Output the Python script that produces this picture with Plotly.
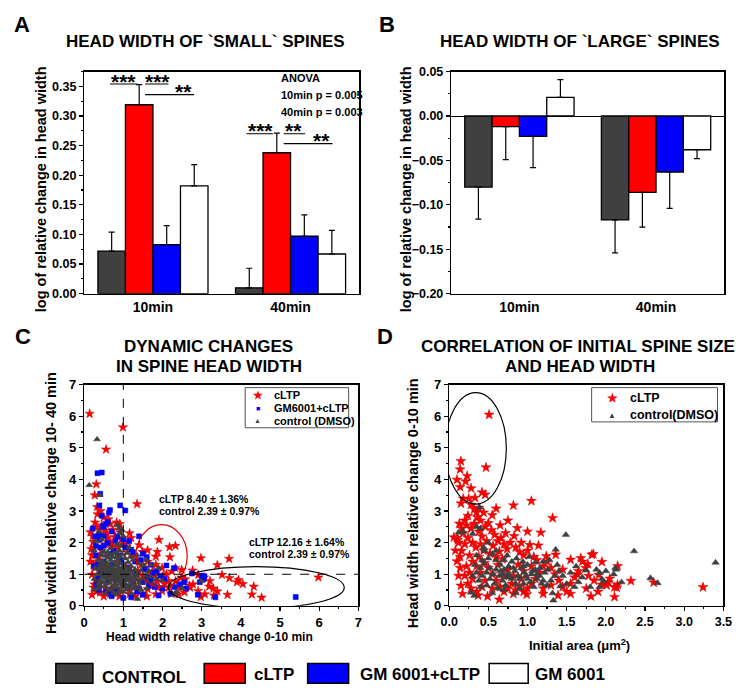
import plotly.graph_objects as go

W, H = 748, 698


def X(p):
    return p / W


def Y(p):
    return 1 - p / H


# ---------------- data: bar panels ----------------
groups = ["10min", "40min"]
series_names = ["CONTROL", "cLTP", "GM 6001+cLTP", "GM 6001"]
series_colors = ["#404040", "#FF0000", "#0000FF", "#FFFFFF"]

small_control = [0.072, 0.010]
small_cltp = [0.319, 0.238]
small_gm_cltp = [0.083, 0.097]
small_gm = [0.182, 0.067]
small_control_err = [0.032, 0.033]
small_cltp_err = [0.034, 0.033]
small_gm_cltp_err = [0.032, 0.036]
small_gm_err = [0.036, 0.040]

large_control = [-0.080, -0.117]
large_cltp = [-0.012, -0.086]
large_gm_cltp = [-0.023, -0.063]
large_gm = [0.021, -0.038]
large_control_err = [0.036, 0.037]
large_cltp_err = [0.037, 0.039]
large_gm_cltp_err = [0.035, 0.041]
large_gm_err = [0.020, 0.010]

# ---------------- data: scatter C ----------------
c_cltp = [
    (0.14, 6.08), (0.99, 5.65), (0.56, 4.95), (0.31, 3.85), (0.27, 3.50), (1.35, 3.22), (0.33, 3.13),
    (0.34, 2.90), (0.62, 2.74), (0.28, 2.64), (0.66, 2.59), (0.83, 2.64), (0.91, 2.59), (0.38, 2.40),
    (0.53, 2.38), (0.73, 2.41), (0.16, 2.33), (0.91, 2.33), (1.16, 2.30), (0.23, 2.02), (1.12, 2.02),
    (0.40, 2.20), (0.60, 2.15), (0.78, 2.18), (0.25, 1.85), (0.20, 1.60), (0.26, 1.61), (0.16, 1.40),
    (0.28, 1.20), (0.20, 0.99), (0.26, 0.68), (0.33, 0.78), (0.24, 0.58), (0.41, 0.42), (0.66, 0.37),
    (0.83, 0.39), (1.16, 0.37), (1.49, 0.37), (1.62, 0.53), (1.83, 0.37), (1.99, 0.47), (2.16, 0.58),
    (2.33, 0.78), (2.58, 0.84), (2.41, 0.37), (2.70, 0.58), (2.78, 0.68), (2.91, 0.47), (3.08, 0.37),
    (2.99, 0.89), (1.41, 1.92), (1.49, 1.71), (1.62, 1.76), (1.83, 1.56), (1.62, 1.40), (1.83, 1.30),
    (1.99, 1.20), (1.74, 1.09), (2.33, 1.20), (2.24, 1.09), (2.49, 1.14), (1.91, 2.09), (2.18, 1.86),
    (2.33, 1.90), (2.19, 1.54), (1.87, 1.71), (2.98, 1.51), (3.40, 1.29), (3.70, 1.49), (3.52, 0.98),
    (3.71, 0.88), (3.94, 0.82), (4.05, 0.69), (4.33, 0.61), (4.28, 0.36), (4.53, 0.26), (3.66, 0.35),
    (3.31, 0.33), (5.98, 0.90), (3.21, 0.79), (3.06, 0.90), (2.98, 0.28), (3.19, 0.61), (3.40, 0.46),
    (2.69, 0.64), (2.56, 0.43), (2.40, 0.59), (2.23, 0.38), (2.15, 0.79), (2.02, 0.95), (1.86, 0.77),
    (2.48, 0.90), (2.77, 1.12), (2.91, 0.98), (3.90, 0.75), (3.30, 0.55), (0.45, 1.75), (0.55, 1.95),
    (0.70, 1.90), (0.85, 1.85), (1.00, 1.95), (1.10, 1.70), (1.25, 1.60), (1.35, 1.45), (1.45, 1.30),
    (1.55, 1.20), (1.65, 1.05), (1.50, 0.95), (1.40, 0.80), (1.30, 0.60), (1.15, 0.50), (0.95, 0.45),
    (0.75, 0.50), (0.55, 0.55), (0.40, 0.70), (0.35, 0.95), (0.30, 1.35), (0.38, 1.55), (0.50, 1.20),
    (0.60, 0.90), (0.80, 0.75), (1.00, 0.65), (1.20, 0.85), (1.05, 1.25), (0.90, 1.40), (0.70, 1.25),
    (1.30, 1.10), (1.70, 0.70), (1.80, 0.95), (1.90, 0.60), (2.05, 0.70), (2.10, 1.00), (1.60, 0.30),
    (1.30, 0.30), (0.50, 0.30), (0.90, 0.30), (0.35, 2.10), (0.45, 2.55), (0.50, 2.80), (0.42, 3.00),
    (0.58, 2.30), (0.68, 2.00), (0.95, 2.10), (1.20, 2.15), (0.30, 2.50), (0.22, 2.20), (0.18, 1.80),
    (0.24, 1.30), (0.30, 0.45), (0.20, 0.35),
]
c_gm_cltp = [
    (0.34, 4.20), (0.45, 4.22), (0.41, 3.55), (0.39, 3.18), (0.92, 3.18), (1.05, 3.02), (0.66, 3.03),
    (0.63, 2.95), (0.22, 2.45), (0.38, 2.25), (0.55, 2.60), (0.48, 2.52), (0.60, 2.65), (0.30, 1.90),
    (0.42, 1.85), (0.85, 2.20), (0.80, 2.05), (1.00, 2.10), (1.40, 2.20), (1.20, 1.78), (1.05, 1.85),
    (1.50, 1.65), (1.60, 1.55), (1.45, 1.45), (1.70, 1.30), (1.85, 1.10), (2.10, 1.28), (2.30, 1.20),
    (2.05, 0.85), (1.95, 0.95), (1.80, 0.60), (2.20, 0.38), (1.90, 0.33), (1.50, 0.35), (1.20, 0.27),
    (1.00, 0.25), (0.70, 0.30), (0.55, 0.45), (0.30, 0.65), (0.35, 0.85), (0.25, 1.25), (0.30, 1.60),
    (0.50, 1.40), (0.45, 1.10), (0.70, 1.30), (0.90, 1.60), (1.30, 1.00), (1.60, 0.90), (1.10, 0.60),
    (1.40, 0.55), (0.80, 0.50), (0.60, 0.80), (2.55, 0.75), (2.45, 0.68), (2.75, 1.02), (3.00, 0.95),
    (3.05, 0.85), (2.95, 0.75), (2.90, 0.35), (3.35, 0.27), (5.40, 0.28), (3.07, 0.94), (2.60, 0.55),
    (1.75, 1.05), (1.30, 1.40), (1.15, 1.20), (0.95, 1.45), (0.75, 1.75), (0.60, 2.00), (0.50, 2.20),
    (0.40, 2.10), (0.35, 1.30), (0.80, 0.95), (1.00, 0.80), (1.25, 0.75), (1.50, 0.75), (1.70, 0.80),
    (2.00, 0.55), (2.30, 0.60), (0.50, 1.90), (0.65, 1.65), (0.42, 1.00), (0.38, 0.50), (0.65, 0.40),
    (1.35, 0.45), (1.65, 0.65), (1.55, 1.15), (1.25, 1.70), (1.15, 2.05), (0.70, 2.35), (0.28, 2.20),
    (0.45, 2.85), (0.50, 2.50),
]
c_control = [
    (0.35, 0.55), (0.42, 0.62), (0.48, 0.75), (0.52, 0.88), (0.45, 1.02), (0.38, 1.15), (0.41, 1.30),
    (0.47, 1.42), (0.55, 1.58), (0.60, 1.70), (0.68, 1.82), (0.75, 1.65), (0.82, 1.55), (0.58, 1.35),
    (0.62, 1.20), (0.66, 1.05), (0.70, 0.92), (0.74, 0.80), (0.78, 0.68), (0.84, 0.58), (0.90, 0.48),
    (0.96, 0.62), (1.02, 0.74), (1.08, 0.86), (1.12, 0.98), (1.05, 1.10), (0.98, 1.22), (0.92, 1.34),
    (0.86, 1.46), (0.80, 1.28), (0.76, 1.15), (0.72, 1.00), (0.88, 0.90), (0.94, 1.02), (1.00, 0.88),
    (0.86, 0.78), (0.92, 0.70), (1.15, 0.65), (1.22, 0.78), (1.28, 0.90), (1.35, 0.82), (1.42, 0.72),
    (1.48, 0.85), (1.55, 0.95), (1.60, 0.78), (1.38, 1.05), (1.30, 1.15), (1.20, 1.25), (1.12, 1.38),
    (1.05, 1.50), (0.98, 1.62), (0.90, 1.75), (1.10, 1.68), (1.25, 1.45), (1.18, 1.12), (1.25, 1.02),
    (1.45, 1.12), (1.52, 1.28), (1.65, 1.10), (1.70, 0.92), (1.75, 0.70), (0.55, 1.00), (0.60, 0.85),
    (0.65, 0.72), (0.70, 0.60), (0.62, 0.50), (0.75, 0.42), (0.85, 0.38), (1.00, 0.45), (1.10, 0.52),
    (1.30, 0.55), (1.45, 0.50), (0.50, 1.15), (0.53, 1.28), (0.68, 1.45), (0.72, 1.55), (0.80, 1.02),
    (0.82, 0.92), (0.95, 0.82), (1.05, 0.95), (1.10, 0.80), (0.84, 1.12), (0.90, 1.10), (0.96, 1.15),
    (1.02, 1.30), (0.78, 1.38), (0.66, 1.28), (0.58, 1.08), (0.46, 0.92), (0.40, 0.80), (0.36, 0.68),
    (0.34, 1.00), (0.37, 1.45), (0.44, 1.62), (0.50, 1.72), (0.85, 1.95), (0.95, 1.90), (1.15, 1.85),
    (1.35, 1.60), (1.40, 1.35), (1.58, 1.45), (1.70, 1.30), (1.85, 0.85), (1.90, 1.20), (2.00, 0.80),
    (2.20, 0.65), (2.35, 0.45), (2.30, 0.35), (2.50, 0.55), (3.00, 0.78), (1.36, 0.22), (0.27, 0.52),
    (0.33, 5.27), (0.13, 3.82), (0.40, 3.50), (0.85, 2.55), (0.90, 2.45), (0.45, 2.10), (0.30, 2.05),
    (0.38, 2.35), (0.96, 2.40), (0.92, 2.30), (1.00, 2.20), (0.25, 1.75), (0.28, 1.20), (0.26, 0.85),
    (0.55, 0.40), (1.20, 0.40), (1.60, 0.55), (0.88, 1.22), (0.74, 1.20), (0.70, 1.10), (0.94, 0.95),
    (1.00, 1.05), (0.80, 0.85), (1.15, 0.90), (0.62, 0.95), (0.56, 0.70), (1.05, 0.60), (1.25, 0.68),
    (1.35, 0.95), (1.18, 1.55), (0.82, 1.68), (0.64, 1.62), (0.60, 1.52), (0.78, 1.10), (0.86, 1.00),
    (0.92, 0.88), (1.00, 0.95), (0.70, 0.80), (0.64, 1.12), (1.08, 1.20), (1.14, 1.05), (0.98, 0.72),
    (0.76, 0.58), (0.54, 0.62), (0.48, 1.30), (0.90, 1.55), (1.20, 0.60), (1.40, 0.60), (0.42, 1.15),
]

# ---------------- data: scatter D ----------------
d_cltp = [
    (0.51, 6.05), (0.15, 4.58), (0.14, 4.32), (0.47, 4.38), (0.23, 4.11), (0.10, 3.99), (0.21, 3.94),
    (0.14, 3.76), (0.28, 3.72), (0.42, 3.59), (0.46, 3.52), (0.18, 3.39), (0.25, 3.39), (0.33, 3.42),
    (0.15, 3.24), (0.82, 3.18), (1.05, 3.32), (1.32, 2.78), (0.55, 2.87), (0.87, 2.46), (1.17, 2.32),
    (0.60, 3.08), (0.32, 3.06), (0.35, 2.96), (0.06, 2.17), (0.11, 2.08), (0.83, 2.21), (1.03, 1.93),
    (1.14, 1.91), (1.24, 1.57), (1.36, 1.62), (1.55, 1.46), (1.68, 1.51), (1.82, 1.62), (1.74, 1.20),
    (1.91, 0.98), (2.03, 0.74), (2.11, 0.59), (2.15, 0.67), (2.32, 0.79), (2.61, 0.74), (3.24, 0.59),
    (2.11, 0.28), (1.81, 0.30), (1.55, 0.38), (1.39, 0.33), (1.20, 0.38), (0.99, 0.36), (0.82, 0.38),
    (0.64, 0.20), (0.49, 0.30), (0.37, 0.33), (0.17, 0.38), (0.15, 0.64), (0.20, 0.95), (0.14, 1.20),
    (0.10, 1.41), (0.16, 1.74), (1.95, 1.39), (2.15, 1.26), (1.64, 1.00), (1.78, 0.95), (1.95, 0.67),
    (1.45, 1.15), (1.84, 1.64), (1.77, 1.32), (2.05, 0.86), (2.01, 0.65), (2.14, 0.58),
    (0.20, 2.70), (0.22, 2.55), (0.28, 2.45), (0.32, 2.60), (0.36, 2.80), (0.38, 2.35), (0.42, 2.20),
    (0.46, 2.50), (0.50, 2.62), (0.54, 2.40), (0.58, 2.25), (0.62, 2.05), (0.66, 2.15), (0.70, 1.95),
    (0.74, 1.80), (0.78, 2.00), (0.85, 1.85), (0.90, 1.70), (0.95, 1.60), (1.00, 1.75), (1.08, 1.55),
    (1.12, 1.45), (0.18, 2.30), (0.24, 2.15), (0.30, 2.00), (0.34, 1.85), (0.40, 1.95), (0.44, 1.75),
    (0.48, 2.05), (0.52, 1.65), (0.56, 1.90), (0.60, 1.55), (0.64, 1.72), (0.68, 1.48), (0.20, 1.95),
    (0.26, 1.60), (0.30, 1.40), (0.22, 1.25), (0.26, 1.05), (0.30, 0.85), (0.24, 0.70), (0.28, 0.55),
    (0.35, 0.45), (0.42, 0.60), (0.46, 0.80), (0.40, 1.05), (0.35, 1.25), (0.38, 1.55), (0.45, 1.35),
    (0.50, 1.20), (0.55, 1.00), (0.60, 0.80), (0.65, 0.60), (0.70, 0.45), (0.75, 0.55), (0.80, 0.70),
    (0.85, 0.50), (0.90, 0.60), (0.95, 0.45), (1.00, 0.55), (1.05, 0.70), (1.10, 0.85), (1.15, 1.05),
    (1.20, 1.25), (1.25, 1.40), (1.30, 1.20), (1.35, 1.00), (1.40, 0.80), (1.45, 0.60), (1.50, 0.45),
    (1.55, 0.70), (1.60, 0.90), (1.65, 1.10), (1.70, 1.40), (1.75, 0.55), (1.85, 0.80), (1.90, 0.45),
    (1.20, 0.55), (1.30, 0.65), (0.12, 0.95), (0.08, 1.75), (0.12, 2.00), (0.14, 1.55), (0.10, 2.15),
    (0.16, 2.45), (0.13, 2.60), (0.40, 2.70), (0.24, 2.85), (0.44, 2.95), (0.28, 3.20), (0.38, 3.10),
    (0.65, 2.55), (0.72, 2.30), (0.92, 2.00), (1.00, 2.35), (0.75, 2.70), (0.62, 1.30), (0.75, 1.15),
    (0.88, 1.30), (0.95, 1.10), (1.05, 1.25), (0.82, 0.95), (0.70, 0.95), (0.55, 0.55), (0.92, 0.85),
]
d_control = [
    (0.39, 3.12), (1.49, 2.25), (1.36, 1.78), (2.36, 1.73), (3.40, 1.37), (2.57, 0.88), (2.66, 0.72),
    (2.12, 1.20), (2.13, 1.15), (1.92, 1.05), (1.95, 0.85), (1.92, 0.60), (1.33, 0.17), (1.32, 0.40),
    (0.32, 0.32), (0.28, 0.42), (0.18, 2.35), (0.12, 2.32), (0.30, 2.28), (0.35, 2.50), (0.40, 2.45),
    (0.44, 1.85), (2.20, 0.75), (2.10, 1.00), (1.70, 0.90), (1.80, 0.60), (2.00, 1.10), (1.60, 0.60),
    (1.65, 0.75), (1.50, 0.70), (1.45, 0.95), (1.97, 0.78), (1.88, 1.15), (1.55, 1.05), (1.42, 0.62),
    (1.38, 1.30), (1.28, 1.45), (1.20, 1.40), (1.10, 1.38), (1.75, 1.12), (1.62, 1.25),
    (0.35, 1.05), (0.40, 1.20), (0.45, 1.35), (0.50, 1.50), (0.55, 1.65), (0.60, 1.45), (0.65, 1.30),
    (0.70, 1.15), (0.75, 1.00), (0.80, 0.85), (0.85, 0.70), (0.90, 0.55), (0.95, 0.70), (1.00, 0.85),
    (1.05, 1.00), (1.10, 1.15), (1.15, 0.95), (1.20, 0.80), (1.25, 0.65), (1.30, 0.80), (1.35, 0.95),
    (1.40, 1.10), (0.38, 0.80), (0.42, 0.95), (0.48, 0.65), (0.52, 0.85), (0.56, 1.00), (0.60, 1.15),
    (0.64, 0.95), (0.68, 0.80), (0.72, 0.65), (0.76, 1.25), (0.80, 1.40), (0.84, 1.10), (0.88, 0.95),
    (0.92, 1.20), (0.96, 1.05), (1.00, 1.30), (1.04, 0.75), (1.08, 0.60), (1.12, 0.85), (1.16, 1.20),
    (1.22, 1.05), (0.45, 1.75), (0.52, 1.20), (0.58, 0.70), (0.62, 0.55), (0.70, 1.45), (0.74, 1.60),
    (0.86, 1.50), (0.94, 1.40), (1.02, 1.55), (0.30, 0.95), (0.33, 1.30), (0.48, 1.05), (0.66, 1.10),
    (0.78, 0.95), (0.82, 1.20), (0.90, 0.85), (0.98, 0.95), (1.06, 1.10), (1.18, 0.70), (1.26, 1.15),
    (0.40, 0.60), (0.55, 0.40), (0.70, 0.50), (0.85, 0.40), (0.60, 1.75), (0.50, 2.00), (0.35, 1.60),
    (0.42, 1.45), (0.68, 1.00), (0.95, 1.25), (0.74, 0.90), (1.12, 1.00),
]

# ---------------- figure ----------------


def font(size, color="black"):
    return dict(family="Liberation Sans, Arial, sans-serif", weight="bold", size=size, color=color)


fig = go.Figure()


def add_bars(vals_list, errs_list, xa, ya):
    for vals, errs, name, col in zip(vals_list, errs_list, series_names, series_colors):
        plus = [e if v >= 0 else 0 for v, e in zip(vals, errs)]
        minus = [e if v < 0 else 0 for v, e in zip(vals, errs)]
        fig.add_trace(go.Bar(
            x=groups, y=vals, name=name, showlegend=False, xaxis=xa, yaxis=ya,
            marker=dict(color=col, line=dict(color="black", width=1.3)),
            error_y=dict(type="data", symmetric=False, array=plus, arrayminus=minus,
                         color="black", thickness=1.2, width=3),
        ))


add_bars([small_control, small_cltp, small_gm_cltp, small_gm],
         [small_control_err, small_cltp_err, small_gm_cltp_err, small_gm_err], "x", "y")
add_bars([large_control, large_cltp, large_gm_cltp, large_gm],
         [large_control_err, large_cltp_err, large_gm_cltp_err, large_gm_err], "x2", "y2")


def scat(pts, xa, ya, symbol, color, size, line_color, name):
    fig.add_trace(go.Scatter(
        x=[p[0] for p in pts], y=[p[1] for p in pts], mode="markers", name=name,
        showlegend=False, xaxis=xa, yaxis=ya, hoverinfo="skip",
        marker=dict(symbol=symbol, color=color, size=size, line=dict(color=line_color, width=0.5)),
    ))


scat(c_cltp, "x3", "y3", "star", "#FF0000", 7, "#D00000", "cLTP")
scat(c_gm_cltp, "x3", "y3", "square", "#0000FF", 5, "#0000FF", "GM6001+cLTP")
scat(c_control, "x3", "y3", "triangle-up", "#404040", 6, "#404040", "control (DMSO)")
scat(d_cltp, "x4", "y4", "star", "#FF0000", 7.5, "#D00000", "cLTP")
scat(d_control, "x4", "y4", "triangle-up", "#404040", 6.5, "#404040", "control(DMSO)")

axis_common = dict(showline=True, linecolor="black", linewidth=1.3, mirror=True,
                   showgrid=False, zeroline=False, tickfont=font(12.5),
                   ticks="outside", ticklen=4, tickwidth=1.2, tickcolor="black")

fig.update_layout(
    width=W, height=H, margin=dict(l=0, r=0, t=0, b=0),
    paper_bgcolor="white", plot_bgcolor="white",
    barmode="group", bargap=0.2, bargroupgap=0,
    showlegend=False, hovermode=False,
    xaxis=dict(axis_common, domain=[X(77), X(359)], anchor="y", type="category",
               range=[-0.5, 1.5], ticks="", tickfont=font(14)),
    yaxis=dict(axis_common, domain=[Y(293), Y(66)], anchor="x", range=[0, 0.375],
               dtick=0.05, tickformat=".2f",
               minor=dict(ticks="outside", ticklen=2, dtick=0.025, tickcolor="black")),
    xaxis2=dict(axis_common, domain=[X(453), X(733)], anchor="y2", type="category",
                range=[-0.5, 1.5], ticks="", tickfont=font(14)),
    yaxis2=dict(axis_common, domain=[Y(293), Y(66)], anchor="x2", range=[-0.2, 0.05],
                dtick=0.05, tickformat=".2f", zeroline=True, zerolinecolor="black", zerolinewidth=1,
                minor=dict(ticks="outside", ticklen=2, dtick=0.025, tickcolor="black")),
    xaxis3=dict(axis_common, domain=[X(77), X(358)], anchor="y3", range=[0, 7], dtick=1,
                tickfont=font(13),
                minor=dict(ticks="outside", ticklen=2, dtick=0.5, tickcolor="black")),
    yaxis3=dict(axis_common, domain=[Y(612), Y(386)], anchor="x3", range=[0, 7], dtick=1,
                tickfont=font(13),
                minor=dict(ticks="outside", ticklen=2, dtick=0.5, tickcolor="black")),
    xaxis4=dict(axis_common, domain=[X(451), X(732)], anchor="y4", range=[0, 3.5], dtick=0.5,
                tickformat=".1f", tickfont=font(12.5),
                minor=dict(ticks="outside", ticklen=2, dtick=0.25, tickcolor="black")),
    yaxis4=dict(axis_common, domain=[Y(612), Y(386)], anchor="x4", range=[0, 7], dtick=1,
                tickfont=font(13),
                minor=dict(ticks="outside", ticklen=2, dtick=0.5, tickcolor="black")),
)

shapes = []
# significance lines in panel A (data coords)
sig_lines = [(-0.312, -0.113, 0.354), (-0.057, 0.113, 0.354), (-0.057, 0.298, 0.336),
             (0.68, 0.872, 0.270), (0.95, 1.106, 0.270), (0.95, 1.305, 0.2535)]
for x0, x1, yv in sig_lines:
    shapes.append(dict(type="line", xref="x", yref="y", x0=x0, x1=x1, y0=yv, y1=yv,
                       line=dict(color="black", width=1.2)))
# dashed reference lines panel C
shapes.append(dict(type="line", xref="x3", yref="y3", x0=1, x1=1, y0=0, y1=7,
                   line=dict(color="black", width=1, dash="dash")))
shapes.append(dict(type="line", xref="x3", yref="y3", x0=0, x1=7, y0=1, y1=1,
                   line=dict(color="black", width=1, dash="dash")))
# ellipses
shapes.append(dict(type="circle", xref="x3", yref="y3", x0=1.32, x1=2.63, y0=0.59, y1=2.57,
                   line=dict(color="#E00000", width=1.2)))
shapes.append(dict(type="circle", xref="x3", yref="y3", x0=2.15, x1=6.64, y0=-0.08, y1=1.24,
                   line=dict(color="black", width=1.2)))
shapes.append(dict(type="circle", xref="x4", yref="y4", x0=-0.05, x1=0.73, y0=3.22, y1=6.75,
                   line=dict(color="black", width=1.2)))
# legend boxes C and D
shapes.append(dict(type="rect", xref="paper", yref="paper", x0=X(242), x1=X(348), y0=Y(430), y1=Y(389),
                   line=dict(color="#555555", width=1), fillcolor="white"))
shapes.append(dict(type="rect", xref="paper", yref="paper", x0=X(597), x1=X(726), y0=Y(424), y1=Y(389),
                   line=dict(color="#555555", width=1), fillcolor="white"))
# bottom legend swatches
swatches = [(48, 86, "#404040"), (200, 242, "#FF0000"), (306, 348, "#0000FF"), (492, 532, "#FFFFFF")]
for x0, x1, col in swatches:
    shapes.append(dict(type="rect", xref="paper", yref="paper", x0=X(x0), x1=X(x1), y0=Y(691), y1=Y(671),
                       line=dict(color="black", width=1.5), fillcolor=col))
fig.update_layout(shapes=shapes)

ann = []


def txt(x, y, s, size, xanchor="center", yanchor="middle", angle=0, color="black"):
    ann.append(dict(x=X(x), y=Y(y), xref="paper", yref="paper", text=s, showarrow=False,
                    font=font(size, color), xanchor=xanchor, yanchor=yanchor, textangle=angle))


# panel letters
txt(13, 18, "A", 22)
txt(387, 18, "B", 22)
txt(14, 337, "C", 22)
txt(385, 337, "D", 22)
# titles
txt(201, 35, "HEAD WIDTH OF `SMALL` SPINES", 17)
txt(585, 35, "HEAD WIDTH OF `LARGE` SPINES", 17)
txt(204, 347, "DYNAMIC CHANGES", 17)
txt(205, 367, "IN SPINE HEAD WIDTH", 17)
txt(583, 347, "CORRELATION OF INITIAL SPINE SIZE", 17)
txt(585, 367, "AND HEAD WIDTH", 17)
# y titles
txt(33, 186, "log of relative change in head width", 14.5, angle=-90)
txt(407, 186, "log of relative change in head width", 14.5, angle=-90)
txt(43, 507, "Head width relative change 10- 40 min", 14.5, angle=-90)
txt(414, 507, "Head width relative change 0-10 min", 14.5, angle=-90)
# x titles
txt(205, 644, "Head width relative change 0-10 min", 12)
txt(585, 652, "Initial area (\u03bcm<sup>2</sup>)", 13)
# ANOVA text
txt(277, 73, "ANOVA", 11, xanchor="left")
txt(277, 90, "10min p = 0.005", 11, xanchor="left")
txt(277, 107, "40min p = 0.003", 11, xanchor="left")
# C annotations
txt(152, 503, "cLTP 8.40 \u00b1 1.36%", 10.5, xanchor="left")
txt(152, 515, "control 2.39 \u00b1 0.97%", 10.5, xanchor="left")
txt(244, 547, "cLTP 12.16 \u00b1 1.64%", 10.5, xanchor="left")
txt(244, 559, "control 2.39 \u00b1 0.97%", 10.5, xanchor="left")
# C legend
txt(255, 397, "\u2605", 11, color="#FF0000")
txt(255, 410, "\u25a0", 7, color="#0000FF")
txt(255, 423, "\u25b2", 7, color="#404040")
txt(269, 397, "cLTP", 11, xanchor="left")
txt(269, 410, "GM6001+cLTP", 11, xanchor="left")
txt(269, 423, "control (DMSO)", 11, xanchor="left")
# D legend
txt(618, 400, "\u2605", 12, color="#FF0000")
txt(618, 417, "\u25b2", 8, color="#404040")
txt(634, 400, "cLTP", 12.5, xanchor="left")
txt(634, 417, "control(DMSO)", 12.5, xanchor="left")
# bottom legend
txt(93, 685, "CONTROL", 17, xanchor="left")
txt(249, 682, "cLTP", 17, xanchor="left")
txt(358, 682, "GM 6001+cLTP", 17, xanchor="left")
txt(537, 682, "GM 6001", 17, xanchor="left")

# significance stars (data coords of panel A)
stars = [(-0.213, 0.354, "***"), (0.035, 0.354, "***"), (0.220, 0.336, "**"),
         (0.780, 0.270, "***"), (1.021, 0.270, "**"), (1.227, 0.2535, "**")]
for xs, ys, s in stars:
    ann.append(dict(x=xs, y=ys, xref="x", yref="y", text=s, showarrow=False, font=font(21),
                    xanchor="center", yanchor="middle", yshift=3))

fig.update_layout(annotations=ann)
fig.write_html("out.html", config={"displayModeBar": False, "staticPlot": True},
               post_script="document.body.style.margin='0px';")
